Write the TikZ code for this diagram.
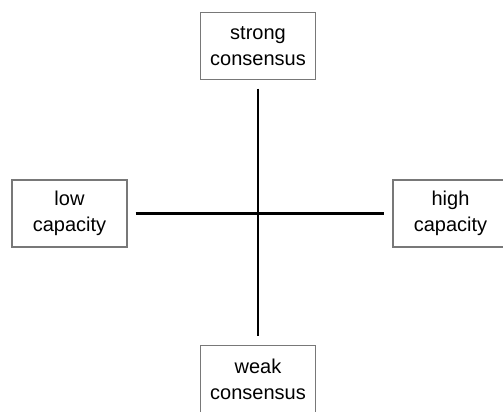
\documentclass[tikz,border=0pt]{standalone}
\usepackage{fontspec}
\setmainfont{Liberation Sans}
\usepackage{tikz}
\usetikzlibrary{positioning}
\definecolor{boxgray}{RGB}{120,120,120}
\tikzstyle{quadbox} = [draw=boxgray, line width=1.3pt, minimum width=115pt, minimum height=67pt, align=center, inner sep=2pt, font=\fontsize{20}{26}\selectfont]
\tikzstyle{axisline} = [line width=2.6pt, black]

\begin{document}
\begin{tikzpicture}[x=1pt,y=1pt]
		\useasboundingbox (0,0) rectangle (503,412);
		%Consensus
		\node[quadbox] (strong) at (258,366) {strong\\consensus};
		\node[quadbox] (weak) at (258,33) {weak\\consensus};

		%Capacity
		\node[quadbox] (low) at (69.5,198.5) {low\\capacity};
		\node[quadbox] (high) at (450.5,198.5) {high\\capacity};

		%axes
		\draw[axisline, shorten <=8.5pt, shorten >=8.5pt] (strong) -- (weak);
		\draw[axisline, shorten <=8pt, shorten >=8pt] (low) -- (high);
	\end{tikzpicture}
\end{document}
